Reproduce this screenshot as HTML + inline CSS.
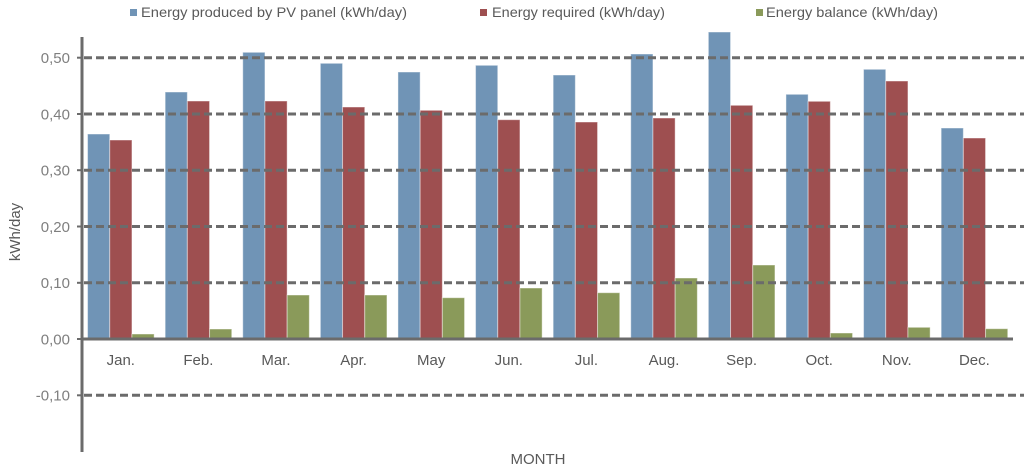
<!DOCTYPE html>
<html>
<head>
<meta charset="utf-8">
<style>
  html,body{margin:0;padding:0;background:#fff;}
  svg{display:block;}
  text{font-family:"Liberation Sans","DejaVu Sans",sans-serif;}
</style>
</head>
<body>
<svg width="1024" height="471" viewBox="0 0 1024 471" xmlns="http://www.w3.org/2000/svg">
  <rect width="1024" height="471" fill="#fff"/>

  <!-- Legend -->
  <rect x="130" y="9" width="7" height="7" fill="#7094B6"/>
  <text x="141" y="17" font-size="14" fill="#595959" textLength="266" lengthAdjust="spacingAndGlyphs">Energy produced by PV panel (kWh/day)</text>
  <rect x="480" y="9" width="7" height="7" fill="#9E4F50"/>
  <text x="492" y="17" font-size="14" fill="#595959" textLength="173" lengthAdjust="spacingAndGlyphs">Energy required (kWh/day)</text>
  <rect x="756" y="9" width="7" height="7" fill="#8A9A5A"/>
  <text x="766" y="17" font-size="14" fill="#595959" textLength="172" lengthAdjust="spacingAndGlyphs">Energy balance (kWh/day)</text>

  <!-- Bars -->
  <g stroke="#ffffff" stroke-opacity="0.45" stroke-width="1">
    <!-- Jan -->
    <rect x="87.55" y="134" width="22.2" height="205" fill="#7094B6"/>
    <rect x="109.75" y="140" width="22.2" height="199" fill="#9E4F50"/>
    <rect x="131.95" y="334" width="22.2" height="5" fill="#8A9A5A"/>
    <!-- Feb -->
    <rect x="165.15" y="92" width="22.2" height="247" fill="#7094B6"/>
    <rect x="187.35" y="101" width="22.2" height="238" fill="#9E4F50"/>
    <rect x="209.55" y="329" width="22.2" height="10" fill="#8A9A5A"/>
    <!-- Mar -->
    <rect x="242.75" y="52.3" width="22.2" height="286.7" fill="#7094B6"/>
    <rect x="264.95" y="101" width="22.2" height="238" fill="#9E4F50"/>
    <rect x="287.15" y="295" width="22.2" height="44" fill="#8A9A5A"/>
    <!-- Apr -->
    <rect x="320.35" y="63.3" width="22.2" height="275.7" fill="#7094B6"/>
    <rect x="342.55" y="107" width="22.2" height="232" fill="#9E4F50"/>
    <rect x="364.75" y="295" width="22.2" height="44" fill="#8A9A5A"/>
    <!-- May -->
    <rect x="397.95" y="72" width="22.2" height="267" fill="#7094B6"/>
    <rect x="420.15" y="110.3" width="22.2" height="228.7" fill="#9E4F50"/>
    <rect x="442.35" y="297.7" width="22.2" height="41.3" fill="#8A9A5A"/>
    <!-- Jun -->
    <rect x="475.55" y="65.3" width="22.2" height="273.7" fill="#7094B6"/>
    <rect x="497.75" y="119.7" width="22.2" height="219.3" fill="#9E4F50"/>
    <rect x="519.95" y="288" width="22.2" height="51" fill="#8A9A5A"/>
    <!-- Jul -->
    <rect x="553.15" y="75" width="22.2" height="264" fill="#7094B6"/>
    <rect x="575.35" y="122" width="22.2" height="217" fill="#9E4F50"/>
    <rect x="597.55" y="292.7" width="22.2" height="46.3" fill="#8A9A5A"/>
    <!-- Aug -->
    <rect x="630.75" y="54" width="22.2" height="285" fill="#7094B6"/>
    <rect x="652.95" y="118" width="22.2" height="221" fill="#9E4F50"/>
    <rect x="675.15" y="278" width="22.2" height="61" fill="#8A9A5A"/>
    <!-- Sep -->
    <rect x="708.35" y="32" width="22.2" height="307" fill="#7094B6"/>
    <rect x="730.55" y="105.3" width="22.2" height="233.7" fill="#9E4F50"/>
    <rect x="752.75" y="265" width="22.2" height="74" fill="#8A9A5A"/>
    <!-- Oct -->
    <rect x="785.95" y="94.3" width="22.2" height="244.7" fill="#7094B6"/>
    <rect x="808.15" y="101.3" width="22.2" height="237.7" fill="#9E4F50"/>
    <rect x="830.35" y="333" width="22.2" height="6" fill="#8A9A5A"/>
    <!-- Nov -->
    <rect x="863.55" y="69.3" width="22.2" height="269.7" fill="#7094B6"/>
    <rect x="885.75" y="81" width="22.2" height="258" fill="#9E4F50"/>
    <rect x="907.95" y="327.3" width="22.2" height="11.7" fill="#8A9A5A"/>
    <!-- Dec -->
    <rect x="941.15" y="128" width="22.2" height="211" fill="#7094B6"/>
    <rect x="963.35" y="138" width="22.2" height="201" fill="#9E4F50"/>
    <rect x="985.55" y="328.7" width="22.2" height="10.3" fill="#8A9A5A"/>
  </g>

  <!-- Gridlines (dashed, on top of bars) -->
  <g stroke="#6b6b6b" stroke-width="3" stroke-dasharray="8,4">
    <line x1="84" y1="57.7" x2="1024" y2="57.7"/>
    <line x1="84" y1="114" x2="1024" y2="114"/>
    <line x1="84" y1="170.2" x2="1024" y2="170.2"/>
    <line x1="84" y1="226.5" x2="1024" y2="226.5"/>
    <line x1="84" y1="282.8" x2="1024" y2="282.8"/>
    <line x1="84" y1="395.3" x2="1024" y2="395.3"/>
  </g>

  <!-- Axes -->
  <line x1="82" y1="37" x2="82" y2="452" stroke="#6b6b6b" stroke-width="3"/>
  <line x1="81" y1="339" x2="1013" y2="339" stroke="#6b6b6b" stroke-width="3"/>
  <g stroke="#6b6b6b" stroke-width="2">
    <line x1="77" y1="57.7" x2="82" y2="57.7"/>
    <line x1="77" y1="114" x2="82" y2="114"/>
    <line x1="77" y1="170.2" x2="82" y2="170.2"/>
    <line x1="77" y1="226.5" x2="82" y2="226.5"/>
    <line x1="77" y1="282.8" x2="82" y2="282.8"/>
    <line x1="77" y1="339" x2="82" y2="339"/>
    <line x1="77" y1="395.3" x2="82" y2="395.3"/>
  </g>

  <!-- Y tick labels -->
  <g font-size="15" fill="#7f7f7f" text-anchor="end">
    <text x="70" y="63">0,50</text>
    <text x="70" y="119.5">0,40</text>
    <text x="70" y="175.5">0,30</text>
    <text x="70" y="232">0,20</text>
    <text x="70" y="288">0,10</text>
    <text x="70" y="344.5">0,00</text>
    <text x="70" y="400.5">-0,10</text>
  </g>

  <!-- Y axis title -->
  <text x="0" y="0" font-size="15" fill="#595959" text-anchor="middle" transform="translate(20,232) rotate(-90)">kWh/day</text>

  <!-- X labels -->
  <g font-size="15" fill="#595959" text-anchor="middle">
    <text x="120.8" y="365">Jan.</text>
    <text x="198.4" y="365">Feb.</text>
    <text x="276" y="365">Mar.</text>
    <text x="353.6" y="365">Apr.</text>
    <text x="431.2" y="365">May</text>
    <text x="508.8" y="365">Jun.</text>
    <text x="586.4" y="365">Jul.</text>
    <text x="664" y="365">Aug.</text>
    <text x="741.6" y="365">Sep.</text>
    <text x="819.2" y="365">Oct.</text>
    <text x="896.8" y="365">Nov.</text>
    <text x="974.4" y="365">Dec.</text>
  </g>

  <!-- X axis title -->
  <text x="538" y="464" font-size="15" fill="#595959" text-anchor="middle">MONTH</text>
</svg>
</body>
</html>
